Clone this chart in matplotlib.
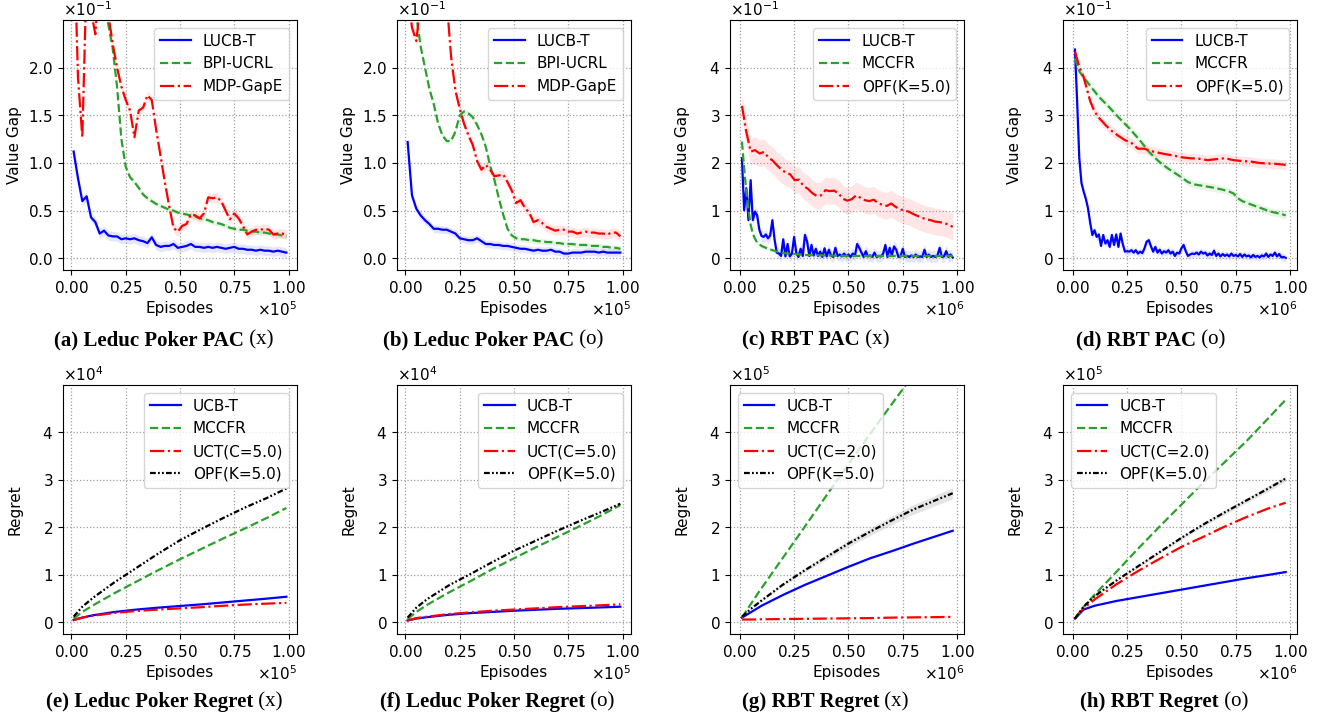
import numpy as np
import matplotlib
matplotlib.use("Agg")
import matplotlib.pyplot as plt
from matplotlib.ticker import ScalarFormatter

plt.rcParams['font.family'] = ['DejaVu Sans']
plt.rcParams['font.size'] = 11
plt.rcParams['mathtext.fontset'] = 'dejavusans'

# ---------------- data ----------------
# PAC, Leduc poker (episodes x1e5, value gap x1e-1)
leduc_x = np.linspace(0.01, 0.99, 50)
a_lucb = [1.12, 0.84, 0.60, 0.65, 0.43, 0.38, 0.26, 0.29, 0.24, 0.23,
          0.23, 0.20, 0.21, 0.20, 0.21, 0.19, 0.18, 0.16, 0.22, 0.14,
          0.12, 0.13, 0.13, 0.15, 0.11, 0.12, 0.13, 0.15, 0.12, 0.12,
          0.11, 0.12, 0.11, 0.12, 0.11, 0.10, 0.11, 0.12, 0.10, 0.10,
          0.09, 0.09, 0.08, 0.09, 0.08, 0.08, 0.07, 0.08, 0.07, 0.06]
a_bpi = [4.0, 3.9, 3.8, 3.6, 3.4, 3.2, 3.0, 2.7, 2.45, 2.2,
         1.80, 1.25, 0.96, 0.85, 0.80, 0.74, 0.67, 0.63, 0.60, 0.57,
         0.55, 0.53, 0.51, 0.50, 0.48, 0.47, 0.46, 0.45, 0.44, 0.42,
         0.41, 0.40, 0.38, 0.37, 0.36, 0.34, 0.32, 0.31, 0.30, 0.30,
         0.29, 0.28, 0.28, 0.27, 0.27, 0.26, 0.25, 0.25, 0.24, 0.23]
a_gape = [3.5, 1.9, 1.27, 3.0, 2.6, 2.35, 3.0, 3.2, 2.55, 2.25,
          2.0, 1.80, 1.66, 1.55, 1.27, 1.55, 1.58, 1.71, 1.66, 1.35,
          1.08, 0.80, 0.55, 0.32, 0.28, 0.34, 0.36, 0.46, 0.45, 0.42,
          0.47, 0.64, 0.63, 0.64, 0.60, 0.50, 0.41, 0.47, 0.42, 0.34,
          0.25, 0.28, 0.30, 0.30, 0.31, 0.30, 0.25, 0.26, 0.26, 0.25]
b_lucb = [1.22, 0.66, 0.52, 0.45, 0.40, 0.36, 0.31, 0.31, 0.30, 0.30,
          0.28, 0.26, 0.21, 0.20, 0.19, 0.19, 0.21, 0.18, 0.15, 0.15,
          0.14, 0.14, 0.13, 0.13, 0.12, 0.11, 0.10, 0.10, 0.09, 0.08,
          0.09, 0.08, 0.08, 0.09, 0.07, 0.07, 0.05, 0.05, 0.06, 0.06,
          0.06, 0.07, 0.07, 0.07, 0.06, 0.07, 0.06, 0.06, 0.06, 0.06]
b_bpi = [3.2, 2.9, 2.55, 2.22, 2.0, 1.78, 1.62, 1.42, 1.29, 1.23,
         1.23, 1.33, 1.50, 1.54, 1.52, 1.48, 1.40, 1.30, 1.17, 0.97,
         0.82, 0.63, 0.46, 0.31, 0.24, 0.21, 0.20, 0.20, 0.19, 0.19,
         0.18, 0.18, 0.17, 0.17, 0.16, 0.16, 0.15, 0.15, 0.15, 0.14,
         0.14, 0.14, 0.13, 0.13, 0.13, 0.12, 0.12, 0.11, 0.11, 0.10]
b_gape = [2.8, 2.42, 2.28, 2.7, 3.2, 3.4, 3.5, 3.3, 3.0, 2.7,
          2.12, 1.76, 1.57, 1.41, 1.29, 1.19, 1.02, 0.93, 0.98, 0.93,
          0.86, 0.87, 0.88, 0.80, 0.71, 0.58, 0.61, 0.53, 0.48, 0.38,
          0.40, 0.37, 0.33, 0.31, 0.29, 0.30, 0.30, 0.28, 0.28, 0.26,
          0.27, 0.28, 0.27, 0.27, 0.26, 0.26, 0.25, 0.27, 0.27, 0.23]

# PAC, RBT (episodes x1e6, value gap x1e-1)
rbt_fine_x = np.linspace(0.01, 0.98, 98)
c_lucb = [2.10, 1.01, 1.47, 0.80, 1.64, 0.80, 0.98, 0.90, 0.60, 0.47,
          0.45, 0.50, 0.42, 0.48, 0.80, 0.40, 0.12, 0.10, 0.05, 0.40,
          0.04, 0.30, 0.04, 0.10, 0.45, 0.12, 0.03, 0.20, 0.05, 0.49,
          0.35, 0.05, 0.28, 0.06, 0.20, 0.05, 0.14, 0.03, 0.21, 0.04,
          0.18, 0.06, 0.03, 0.22, 0.05, 0.08, 0.04, 0.10, 0.04, 0.08,
          0.03, 0.10, 0.05, 0.30, 0.22, 0.12, 0.03, 0.15, 0.04, 0.06,
          0.03, 0.12, 0.03, 0.05, 0.04, 0.10, 0.28, 0.03, 0.22, 0.06,
          0.25, 0.18, 0.03, 0.04, 0.20, 0.03, 0.05, 0.03, 0.06, 0.03,
          0.08, 0.03, 0.04, 0.03, 0.18, 0.03, 0.08, 0.03, 0.05, 0.03,
          0.06, 0.22, 0.03, 0.04, 0.15, 0.03, 0.08, 0.02]
c_mccfr_x = [0.01, 0.02, 0.03, 0.04, 0.05, 0.06, 0.07, 0.08, 0.10, 0.12, 0.15,
             0.20, 0.25, 0.30, 0.40, 0.50, 0.60, 0.70, 0.80, 0.90, 0.98]
c_mccfr = [2.45, 1.90, 1.40, 1.02, 0.70, 0.52, 0.41, 0.33, 0.26, 0.22, 0.17,
           0.11, 0.09, 0.07, 0.06, 0.05, 0.05, 0.05, 0.05, 0.05, 0.05]
c_opf_x = np.linspace(0.01, 0.98, 49)
c_opf = [3.2, 2.65, 2.24, 2.27, 2.20, 2.23, 2.12, 2.05, 1.95, 1.86,
         1.80, 1.76, 1.64, 1.65, 1.52, 1.46, 1.37, 1.31, 1.32, 1.43,
         1.41, 1.42, 1.36, 1.25, 1.21, 1.24, 1.32, 1.27, 1.22, 1.20,
         1.23, 1.16, 1.12, 1.10, 1.15, 1.08, 1.03, 1.00, 0.98, 0.93,
         0.89, 0.85, 0.82, 0.80, 0.77, 0.76, 0.74, 0.71, 0.66]
d_lucb = [4.38, 3.30, 2.10, 1.58, 1.40, 1.25, 1.05, 0.75, 0.49, 0.59,
          0.45, 0.50, 0.26, 0.49, 0.31, 0.38, 0.24, 0.49, 0.28, 0.50,
          0.24, 0.52, 0.30, 0.14, 0.15, 0.14, 0.17, 0.12, 0.17, 0.10,
          0.14, 0.11, 0.21, 0.35, 0.38, 0.25, 0.14, 0.24, 0.12, 0.18,
          0.10, 0.15, 0.12, 0.17, 0.10, 0.14, 0.05, 0.12, 0.10, 0.21,
          0.28, 0.15, 0.05, 0.08, 0.10, 0.09, 0.12, 0.08, 0.14, 0.10,
          0.12, 0.06, 0.10, 0.07, 0.16, 0.05, 0.10, 0.04, 0.09, 0.05,
          0.08, 0.04, 0.10, 0.05, 0.07, 0.04, 0.09, 0.03, 0.08, 0.04,
          0.06, 0.02, 0.07, 0.03, 0.05, 0.02, 0.06, 0.04, 0.10, 0.03,
          0.08, 0.05, 0.12, 0.04, 0.09, 0.02, 0.03, 0.01]
d_mccfr_x = [0.01, 0.03, 0.08, 0.12, 0.17, 0.21, 0.26, 0.31, 0.35, 0.38,
             0.41, 0.44, 0.47, 0.50, 0.53, 0.56, 0.60, 0.65, 0.69, 0.72,
             0.74, 0.76, 0.78, 0.82, 0.85, 0.88, 0.91, 0.93, 0.96, 0.98]
d_mccfr = [4.20, 3.92, 3.62, 3.39, 3.16, 2.96, 2.73, 2.47, 2.24, 2.10,
           1.98, 1.88, 1.79, 1.70, 1.60, 1.55, 1.52, 1.48, 1.44, 1.40,
           1.36, 1.26, 1.20, 1.13, 1.08, 1.03, 0.98, 0.96, 0.93, 0.90]
d_opf_x = [0.01, 0.03, 0.05, 0.08, 0.10, 0.12, 0.15, 0.18, 0.21, 0.24,
           0.27, 0.30, 0.33, 0.36, 0.39, 0.42, 0.46, 0.50, 0.54, 0.58,
           0.62, 0.66, 0.70, 0.74, 0.78, 0.82, 0.86, 0.90, 0.94, 0.98]
d_opf = [4.34, 4.02, 3.80, 3.30, 3.08, 2.95, 2.80, 2.67, 2.57, 2.48,
         2.42, 2.30, 2.30, 2.25, 2.22, 2.19, 2.16, 2.12, 2.10, 2.09,
         2.06, 2.08, 2.10, 2.06, 2.04, 2.03, 2.00, 1.99, 1.98, 1.96]

# Regret (Leduc: x1e5 episodes, x1e4 regret; RBT: x1e6 episodes, x1e5 regret)
reg_x_leduc = [0.01, 0.05, 0.10, 0.20, 0.30, 0.40, 0.50, 0.60, 0.70, 0.80, 0.90, 0.99]
reg_x_rbt = [0.01, 0.05, 0.10, 0.20, 0.30, 0.40, 0.50, 0.60, 0.70, 0.80, 0.90, 0.98]
e_ucbt = [0.05, 0.10, 0.15, 0.22, 0.27, 0.31, 0.345, 0.38, 0.42, 0.46, 0.50, 0.54]
e_mccfr = [0.08, 0.22, 0.36, 0.62, 0.86, 1.10, 1.33, 1.55, 1.77, 1.98, 2.20, 2.41]
e_uct = [0.05, 0.10, 0.14, 0.20, 0.24, 0.27, 0.295, 0.32, 0.35, 0.375, 0.395, 0.41]
e_opf = [0.12, 0.33, 0.52, 0.85, 1.15, 1.45, 1.73, 1.97, 2.20, 2.42, 2.62, 2.82]
f_ucbt = [0.04, 0.08, 0.11, 0.16, 0.195, 0.22, 0.245, 0.265, 0.285, 0.30, 0.315, 0.33]
f_mccfr = [0.07, 0.22, 0.37, 0.63, 0.87, 1.12, 1.35, 1.58, 1.80, 2.02, 2.25, 2.47]
f_uct = [0.04, 0.09, 0.12, 0.175, 0.21, 0.245, 0.27, 0.295, 0.32, 0.34, 0.36, 0.38]
f_opf = [0.10, 0.31, 0.49, 0.78, 1.02, 1.27, 1.51, 1.72, 1.93, 2.13, 2.32, 2.50]
g_ucbt = [0.10, 0.21, 0.35, 0.58, 0.79, 0.98, 1.17, 1.35, 1.50, 1.66, 1.81, 1.93]
g_mccfr = [0.10, 0.38, 0.72, 1.37, 2.02, 2.68, 3.33, 3.97, 4.60, 5.22, 5.85, 6.35]
g_uct = [0.06, 0.06, 0.065, 0.07, 0.075, 0.08, 0.085, 0.09, 0.10, 0.105, 0.11, 0.115]
g_opf = [0.12, 0.28, 0.46, 0.80, 1.10, 1.38, 1.66, 1.91, 2.15, 2.38, 2.57, 2.72]
g_opf_band = [0.0, 0.01, 0.02, 0.03, 0.04, 0.06, 0.07, 0.08, 0.09, 0.10, 0.11, 0.12]
h_ucbt = [0.08, 0.27, 0.35, 0.45, 0.53, 0.61, 0.69, 0.77, 0.85, 0.93, 1.00, 1.06]
h_mccfr = [0.08, 0.33, 0.58, 1.06, 1.55, 2.02, 2.48, 2.94, 3.38, 3.82, 4.30, 4.69]
h_uct = [0.08, 0.30, 0.48, 0.80, 1.08, 1.34, 1.59, 1.80, 2.02, 2.22, 2.40, 2.52]
h_opf = [0.08, 0.33, 0.55, 0.88, 1.18, 1.48, 1.78, 2.06, 2.32, 2.57, 2.82, 3.03]
h_opf_band = [0.0, 0.01, 0.01, 0.02, 0.03, 0.03, 0.04, 0.04, 0.05, 0.05, 0.06, 0.06]

captions_bold = ["(a) Leduc Poker PAC", "(b) Leduc Poker PAC", "(c) RBT PAC", "(d) RBT PAC",
                 "(e) Leduc Poker Regret", "(f) Leduc Poker Regret", "(g) RBT Regret", "(h) RBT Regret"]
captions_tail = [" (x)", " (o)", " (x)", " (o)", " (x)", " (o)", " (x)", " (o)"]

# ---------------- styling ----------------
BLUE, GREEN, RED, BLACK = '#0000ff', '#2ca02c', '#ff0000', '#000000'
DASHDOTDOT = (0, (2.6, 1.0, 0.8, 1.0, 0.8, 1.0))

W, H = 1317, 719
fig = plt.figure(figsize=(W / 100, H / 100), dpi=100)

lefts = [63, 397, 730, 1063]
AX_W = 234


def make_ax(col, top, h):
    return fig.add_axes([lefts[col] / W, 1 - (top + h) / H, AX_W / W, h / H])


def style(ax, xscale, xlim, ymax, yticks, ylabel, legend_loc):
    ax.set_xlim(xlim[0] * xscale, xlim[1] * xscale)
    ax.set_ylim(-0.049 * ymax, ymax)
    ax.set_xticks([v * xscale for v in [0, 0.25, 0.5, 0.75, 1.0]])
    ax.set_yticks(yticks)
    for axis in (ax.xaxis, ax.yaxis):
        fmt = ScalarFormatter(useMathText=True)
        fmt.set_powerlimits((0, 0))
        axis.set_major_formatter(fmt)
    ax.grid(True, linestyle=':', color='#a0a0a0', linewidth=0.9)
    ax.set_xlabel('Episodes')
    ax.set_ylabel(ylabel)
    ax.yaxis.label.set_va('center')
    ax.yaxis.set_label_coords(-48 / AX_W, 0.5)
    ax.legend(loc=legend_loc, fontsize=11)


def curve(ax, x, y, xs, ys, color, ls, label, band=None):
    x = np.asarray(x, float) * xs
    y = np.asarray(y, float) * ys
    if band is not None:
        b = np.asarray(band, float) * ys
        ax.fill_between(x, y - b, y + b, color=color, alpha=0.1, linewidth=0)
    ax.plot(x, y, color=color, linestyle=ls, linewidth=1.6, label=label)


# (a)
ax = make_ax(0, 20, 250)
curve(ax, leduc_x, a_lucb, 1e5, 0.1, BLUE, '-', 'LUCB-T', 0.05)
curve(ax, leduc_x, a_bpi, 1e5, 0.1, GREEN, '--', 'BPI-UCRL', 0.03)
curve(ax, leduc_x, a_gape, 1e5, 0.1, RED, '-.', 'MDP-GapE', 0.05)
style(ax, 1e5, (-0.039, 1.039), 0.25, [0, 0.05, 0.1, 0.15, 0.2], 'Value Gap', 'upper right')

# (b)
ax = make_ax(1, 20, 250)
curve(ax, leduc_x, b_lucb, 1e5, 0.1, BLUE, '-', 'LUCB-T', 0.04)
curve(ax, leduc_x, b_bpi, 1e5, 0.1, GREEN, '--', 'BPI-UCRL', 0.03)
curve(ax, leduc_x, b_gape, 1e5, 0.1, RED, '-.', 'MDP-GapE', 0.05)
style(ax, 1e5, (-0.039, 1.039), 0.25, [0, 0.05, 0.1, 0.15, 0.2], 'Value Gap', 'upper right')

# (c)
ax = make_ax(2, 20, 250)
curve(ax, rbt_fine_x, c_lucb, 1e6, 0.1, BLUE, '-', 'LUCB-T', 0.12)
curve(ax, c_mccfr_x, c_mccfr, 1e6, 0.1, GREEN, '--', 'MCCFR', 0.04)
curve(ax, c_opf_x, c_opf, 1e6, 0.1, RED, '-.', 'OPF(K=5.0)', 0.28)
style(ax, 1e6, (-0.045, 1.032), 0.5, [0, 0.1, 0.2, 0.3, 0.4], 'Value Gap', 'upper right')

# (d)
ax = make_ax(3, 20, 250)
curve(ax, rbt_fine_x, d_lucb, 1e6, 0.1, BLUE, '-', 'LUCB-T', 0.08)
curve(ax, d_mccfr_x, d_mccfr, 1e6, 0.1, GREEN, '--', 'MCCFR', 0.08)
curve(ax, d_opf_x, d_opf, 1e6, 0.1, RED, '-.', 'OPF(K=5.0)', 0.10)
style(ax, 1e6, (-0.045, 1.032), 0.5, [0, 0.1, 0.2, 0.3, 0.4], 'Value Gap', 'upper right')

# (e)
ax = make_ax(0, 385, 249)
curve(ax, reg_x_leduc, e_ucbt, 1e5, 1e4, BLUE, '-', 'UCB-T')
curve(ax, reg_x_leduc, e_mccfr, 1e5, 1e4, GREEN, '--', 'MCCFR')
curve(ax, reg_x_leduc, e_uct, 1e5, 1e4, RED, '-.', 'UCT(C=5.0)')
curve(ax, reg_x_leduc, e_opf, 1e5, 1e4, BLACK, DASHDOTDOT, 'OPF(K=5.0)')
style(ax, 1e5, (-0.039, 1.039), 5e4, [0, 1e4, 2e4, 3e4, 4e4], 'Regret', 'upper right')

# (f)
ax = make_ax(1, 385, 249)
curve(ax, reg_x_leduc, f_ucbt, 1e5, 1e4, BLUE, '-', 'UCB-T')
curve(ax, reg_x_leduc, f_mccfr, 1e5, 1e4, GREEN, '--', 'MCCFR')
curve(ax, reg_x_leduc, f_uct, 1e5, 1e4, RED, '-.', 'UCT(C=5.0)')
curve(ax, reg_x_leduc, f_opf, 1e5, 1e4, BLACK, DASHDOTDOT, 'OPF(K=5.0)')
style(ax, 1e5, (-0.039, 1.039), 5e4, [0, 1e4, 2e4, 3e4, 4e4], 'Regret', 'upper right')

# (g)
ax = make_ax(2, 385, 249)
curve(ax, reg_x_rbt, g_ucbt, 1e6, 1e5, BLUE, '-', 'UCB-T')
curve(ax, reg_x_rbt, g_mccfr, 1e6, 1e5, GREEN, '--', 'MCCFR')
curve(ax, reg_x_rbt, g_uct, 1e6, 1e5, RED, '-.', 'UCT(C=2.0)')
curve(ax, reg_x_rbt, g_opf, 1e6, 1e5, BLACK, DASHDOTDOT, 'OPF(K=5.0)', g_opf_band)
style(ax, 1e6, (-0.045, 1.032), 5e5, [0, 1e5, 2e5, 3e5, 4e5], 'Regret', 'upper left')

# (h)
ax = make_ax(3, 385, 249)
curve(ax, reg_x_rbt, h_ucbt, 1e6, 1e5, BLUE, '-', 'UCB-T')
curve(ax, reg_x_rbt, h_mccfr, 1e6, 1e5, GREEN, '--', 'MCCFR')
curve(ax, reg_x_rbt, h_uct, 1e6, 1e5, RED, '-.', 'UCT(C=2.0)')
curve(ax, reg_x_rbt, h_opf, 1e6, 1e5, BLACK, DASHDOTDOT, 'OPF(K=5.0)', h_opf_band)
style(ax, 1e6, (-0.045, 1.032), 5e5, [0, 1e5, 2e5, 3e5, 4e5], 'Regret', 'upper left')

# ---------------- captions ----------------
cap_cx = [164, 493, 816, 1151, 164, 497, 825, 1164]
cap_cy = [340, 340, 340, 340, 702, 702, 702, 702]
texts = []
for i in range(8):
    y = 1 - cap_cy[i] / H
    t1 = fig.text(0, y, captions_bold[i], fontfamily='Liberation Serif', fontweight='bold',
                  fontsize=15, va='center', ha='left')
    t2 = fig.text(0, y, captions_tail[i], fontfamily='Liberation Serif',
                  fontsize=15, va='center', ha='left')
    texts.append((t1, t2))
fig.canvas.draw()
r = fig.canvas.get_renderer()
for i, (t1, t2) in enumerate(texts):
    w1 = t1.get_window_extent(r).width
    w2 = t2.get_window_extent(r).width
    x0 = cap_cx[i] - (w1 + w2) / 2
    t1.set_x(x0 / W)
    t2.set_x((x0 + w1) / W)

fig.savefig('out.png', dpi=100)
